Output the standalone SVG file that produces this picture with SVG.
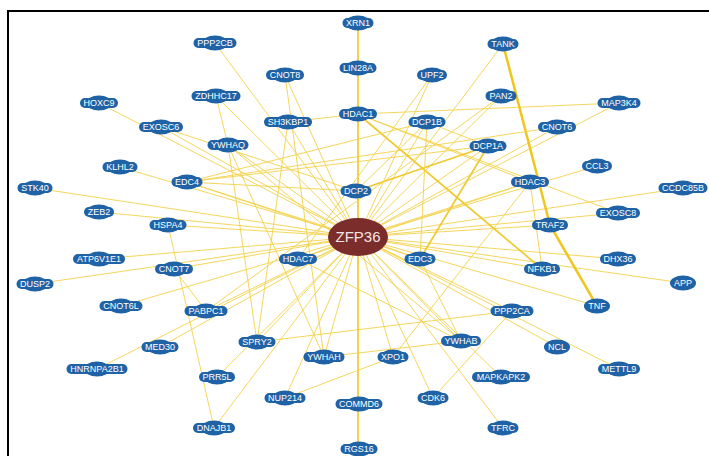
<svg xmlns="http://www.w3.org/2000/svg" width="709" height="456" viewBox="0 0 709 456">
<style>
.e{stroke:#F3D24A;stroke-width:1;stroke-opacity:0.9;fill:none}
.e2{stroke:#EFC61E;stroke-width:2.5;fill:none}
.e3{stroke:#F0C930;stroke-width:1.7;fill:none}
.b{fill:#1F63A6}
.t{fill:#FFFFFF;font-family:"Liberation Sans",Arial,sans-serif;font-size:9px;text-anchor:middle}
.hub{fill:#7B2D2B}
.ht{fill:#F3E4E4;font-family:"Liberation Sans",Arial,sans-serif;font-size:15px;text-anchor:middle}
</style>
<rect width="709" height="456" fill="#FFFFFF"/>
<path d="M8,456 V11 H709" fill="none" stroke="#000" stroke-width="2"/>
<g id="connectors">
<line class="e" x1="358" y1="237" x2="215" y2="43"/>
<line class="e" x1="358" y1="237" x2="503" y2="44"/>
<line class="e" x1="358" y1="237" x2="285" y2="75"/>
<line class="e" x1="358" y1="237" x2="432" y2="75"/>
<line class="e" x1="358" y1="237" x2="501" y2="96"/>
<line class="e" x1="358" y1="237" x2="619" y2="103"/>
<line class="e" x1="358" y1="237" x2="99" y2="103"/>
<line class="e" x1="358" y1="237" x2="216" y2="96"/>
<line class="e" x1="358" y1="237" x2="288" y2="122"/>
<line class="e" x1="358" y1="237" x2="427" y2="122"/>
<line class="e" x1="358" y1="237" x2="161" y2="127"/>
<line class="e" x1="358" y1="237" x2="557" y2="127"/>
<line class="e" x1="358" y1="237" x2="228" y2="145"/>
<line class="e" x1="358" y1="237" x2="488" y2="146"/>
<line class="e" x1="358" y1="237" x2="120" y2="167"/>
<line class="e" x1="358" y1="237" x2="187" y2="182"/>
<line class="e" x1="358" y1="237" x2="597" y2="166"/>
<line class="e" x1="358" y1="237" x2="530" y2="182"/>
<line class="e" x1="358" y1="237" x2="683" y2="188"/>
<line class="e" x1="358" y1="237" x2="35" y2="188"/>
<line class="e" x1="358" y1="237" x2="99" y2="212"/>
<line class="e" x1="358" y1="237" x2="618" y2="213"/>
<line class="e" x1="358" y1="237" x2="168" y2="225"/>
<line class="e" x1="358" y1="237" x2="550" y2="225"/>
<line class="e" x1="358" y1="237" x2="99" y2="259"/>
<line class="e" x1="358" y1="237" x2="298" y2="259"/>
<line class="e" x1="358" y1="237" x2="420" y2="259"/>
<line class="e" x1="358" y1="237" x2="618" y2="259"/>
<line class="e" x1="358" y1="237" x2="174" y2="269"/>
<line class="e" x1="358" y1="237" x2="542" y2="269"/>
<line class="e" x1="358" y1="237" x2="35" y2="284"/>
<line class="e" x1="358" y1="237" x2="683" y2="283"/>
<line class="e" x1="358" y1="237" x2="121" y2="306"/>
<line class="e" x1="358" y1="237" x2="206" y2="311"/>
<line class="e" x1="358" y1="237" x2="597" y2="306"/>
<line class="e" x1="358" y1="237" x2="512" y2="311"/>
<line class="e" x1="358" y1="237" x2="160" y2="347"/>
<line class="e" x1="358" y1="237" x2="257" y2="342"/>
<line class="e" x1="358" y1="237" x2="461" y2="341"/>
<line class="e" x1="358" y1="237" x2="557" y2="347"/>
<line class="e" x1="358" y1="237" x2="97" y2="369"/>
<line class="e" x1="358" y1="237" x2="324" y2="357"/>
<line class="e" x1="358" y1="237" x2="393" y2="357"/>
<line class="e" x1="358" y1="237" x2="217" y2="377"/>
<line class="e" x1="358" y1="237" x2="501" y2="377"/>
<line class="e" x1="358" y1="237" x2="619" y2="369"/>
<line class="e" x1="358" y1="237" x2="285" y2="398"/>
<line class="e" x1="358" y1="237" x2="433" y2="398"/>
<line class="e" x1="358" y1="237" x2="214" y2="428"/>
<line class="e" x1="358" y1="237" x2="503" y2="428"/>
<line class="e3" x1="358" y1="237" x2="358" y2="449"/>
<line class="e3" x1="358" y1="23" x2="358" y2="237"/>
<line class="e" x1="358" y1="114" x2="288" y2="122"/>
<line class="e" x1="358" y1="114" x2="619" y2="103"/>
<line class="e3" x1="358" y1="114" x2="542" y2="269"/>
<line class="e" x1="358" y1="114" x2="530" y2="182"/>
<line class="e" x1="358" y1="114" x2="618" y2="213"/>
<line class="e2" x1="503" y1="44" x2="550" y2="225"/>
<line class="e2" x1="550" y1="225" x2="597" y2="306"/>
<line class="e3" x1="488" y1="146" x2="356" y2="191"/>
<line class="e3" x1="488" y1="146" x2="420" y2="259"/>
<line class="e" x1="427" y1="122" x2="420" y2="259"/>
<line class="e" x1="427" y1="122" x2="488" y2="146"/>
<line class="e" x1="427" y1="122" x2="356" y2="191"/>
<line class="e" x1="187" y1="182" x2="356" y2="191"/>
<line class="e" x1="187" y1="182" x2="488" y2="146"/>
<line class="e" x1="187" y1="182" x2="427" y2="122"/>
<line class="e" x1="187" y1="182" x2="557" y2="127"/>
<line class="e" x1="187" y1="182" x2="420" y2="259"/>
<line class="e" x1="530" y1="182" x2="393" y2="357"/>
<line class="e" x1="530" y1="182" x2="542" y2="269"/>
<line class="e" x1="530" y1="182" x2="298" y2="259"/>
<line class="e" x1="161" y1="127" x2="356" y2="191"/>
<line class="e" x1="216" y1="96" x2="228" y2="145"/>
<line class="e" x1="228" y1="145" x2="257" y2="342"/>
<line class="e" x1="228" y1="145" x2="324" y2="357"/>
<line class="e" x1="228" y1="145" x2="461" y2="341"/>
<line class="e" x1="288" y1="122" x2="257" y2="342"/>
<line class="e" x1="257" y1="342" x2="512" y2="311"/>
<line class="e" x1="512" y1="311" x2="433" y2="398"/>
<line class="e" x1="168" y1="225" x2="214" y2="428"/>
<line class="e" x1="174" y1="269" x2="206" y2="311"/>
<line class="e" x1="393" y1="357" x2="285" y2="398"/>
<line class="e" x1="324" y1="357" x2="461" y2="341"/>
<line class="e" x1="298" y1="259" x2="461" y2="341"/>
<line class="e" x1="420" y1="259" x2="461" y2="341"/>
<line class="e" x1="501" y1="96" x2="206" y2="311"/>
<line class="e" x1="285" y1="75" x2="324" y2="357"/>
<line class="e" x1="432" y1="75" x2="298" y2="259"/>
</g>
<g id="ZFP36"><ellipse class="hub" cx="358" cy="237" rx="30" ry="19"/><text class="ht" x="358" y="242">ZFP36</text></g>
<g id="XRN1" transform="translate(358,23)"><ellipse class="b" rx="13" ry="7.5"/><rect class="b" x="-15.5" y="-5" width="31" height="10" rx="5"/><text class="t" y="3.2">XRN1</text></g>
<g id="PPP2CB" transform="translate(215,43)"><ellipse class="b" rx="13" ry="7.5"/><rect class="b" x="-21.5" y="-5" width="43" height="10" rx="5"/><text class="t" y="3.2">PPP2CB</text></g>
<g id="TANK" transform="translate(503,44)"><ellipse class="b" rx="13" ry="7.5"/><rect class="b" x="-15.5" y="-5" width="31" height="10" rx="5"/><text class="t" y="3.2">TANK</text></g>
<g id="LIN28A" transform="translate(358,68)"><ellipse class="b" rx="13" ry="7.5"/><rect class="b" x="-18.5" y="-5" width="37" height="10" rx="5"/><text class="t" y="3.2">LIN28A</text></g>
<g id="CNOT8" transform="translate(285,75)"><ellipse class="b" rx="13" ry="7.5"/><rect class="b" x="-19" y="-5" width="38" height="10" rx="5"/><text class="t" y="3.2">CNOT8</text></g>
<g id="UPF2" transform="translate(432,75)"><ellipse class="b" rx="13" ry="7.5"/><rect class="b" x="-15" y="-5" width="30" height="10" rx="5"/><text class="t" y="3.2">UPF2</text></g>
<g id="PAN2" transform="translate(501,96)"><ellipse class="b" rx="13" ry="7.5"/><rect class="b" x="-15.5" y="-5" width="31" height="10" rx="5"/><text class="t" y="3.2">PAN2</text></g>
<g id="MAP3K4" transform="translate(619,103)"><ellipse class="b" rx="13" ry="7.5"/><rect class="b" x="-21.5" y="-5" width="43" height="10" rx="5"/><text class="t" y="3.2">MAP3K4</text></g>
<g id="HOXC9" transform="translate(99,103)"><ellipse class="b" rx="13" ry="7.5"/><rect class="b" x="-19" y="-5" width="38" height="10" rx="5"/><text class="t" y="3.2">HOXC9</text></g>
<g id="ZDHHC17" transform="translate(216,96)"><ellipse class="b" rx="13" ry="7.5"/><rect class="b" x="-24.5" y="-5" width="49" height="10" rx="5"/><text class="t" y="3.2">ZDHHC17</text></g>
<g id="HDAC1" transform="translate(358,114)"><ellipse class="b" rx="13" ry="7.5"/><rect class="b" x="-19" y="-5" width="38" height="10" rx="5"/><text class="t" y="3.2">HDAC1</text></g>
<g id="SH3KBP1" transform="translate(288,122)"><ellipse class="b" rx="13" ry="7.5"/><rect class="b" x="-24" y="-5" width="48" height="10" rx="5"/><text class="t" y="3.2">SH3KBP1</text></g>
<g id="DCP1B" transform="translate(427,122)"><ellipse class="b" rx="13" ry="7.5"/><rect class="b" x="-18.5" y="-5" width="37" height="10" rx="5"/><text class="t" y="3.2">DCP1B</text></g>
<g id="EXOSC6" transform="translate(161,127)"><ellipse class="b" rx="13" ry="7.5"/><rect class="b" x="-22" y="-5" width="44" height="10" rx="5"/><text class="t" y="3.2">EXOSC6</text></g>
<g id="CNOT6" transform="translate(557,127)"><ellipse class="b" rx="13" ry="7.5"/><rect class="b" x="-19" y="-5" width="38" height="10" rx="5"/><text class="t" y="3.2">CNOT6</text></g>
<g id="YWHAQ" transform="translate(228,145)"><ellipse class="b" rx="13" ry="7.5"/><rect class="b" x="-20.5" y="-5" width="41" height="10" rx="5"/><text class="t" y="3.2">YWHAQ</text></g>
<g id="DCP1A" transform="translate(488,146)"><ellipse class="b" rx="13" ry="7.5"/><rect class="b" x="-18.5" y="-5" width="37" height="10" rx="5"/><text class="t" y="3.2">DCP1A</text></g>
<g id="KLHL2" transform="translate(120,167)"><ellipse class="b" rx="13" ry="7.5"/><rect class="b" x="-17.5" y="-5" width="35" height="10" rx="5"/><text class="t" y="3.2">KLHL2</text></g>
<g id="EDC4" transform="translate(187,182)"><ellipse class="b" rx="13" ry="7.5"/><rect class="b" x="-15.5" y="-5" width="31" height="10" rx="5"/><text class="t" y="3.2">EDC4</text></g>
<g id="CCL3" transform="translate(597,166)"><ellipse class="b" rx="13" ry="7.5"/><rect class="b" x="-15" y="-5" width="30" height="10" rx="5"/><text class="t" y="3.2">CCL3</text></g>
<g id="HDAC3" transform="translate(530,182)"><ellipse class="b" rx="13" ry="7.5"/><rect class="b" x="-19" y="-5" width="38" height="10" rx="5"/><text class="t" y="3.2">HDAC3</text></g>
<g id="CCDC85B" transform="translate(683,188)"><ellipse class="b" rx="13" ry="7.5"/><rect class="b" x="-24.5" y="-5" width="49" height="10" rx="5"/><text class="t" y="3.2">CCDC85B</text></g>
<g id="STK40" transform="translate(35,188)"><ellipse class="b" rx="13" ry="7.5"/><rect class="b" x="-17.5" y="-5" width="35" height="10" rx="5"/><text class="t" y="3.2">STK40</text></g>
<g id="DCP2" transform="translate(356,191)"><ellipse class="b" rx="13" ry="7.5"/><rect class="b" x="-15.5" y="-5" width="31" height="10" rx="5"/><text class="t" y="3.2">DCP2</text></g>
<g id="ZEB2" transform="translate(99,212)"><ellipse class="b" rx="13" ry="7.5"/><rect class="b" x="-15" y="-5" width="30" height="10" rx="5"/><text class="t" y="3.2">ZEB2</text></g>
<g id="EXOSC8" transform="translate(618,213)"><ellipse class="b" rx="13" ry="7.5"/><rect class="b" x="-22" y="-5" width="44" height="10" rx="5"/><text class="t" y="3.2">EXOSC8</text></g>
<g id="HSPA4" transform="translate(168,225)"><ellipse class="b" rx="13" ry="7.5"/><rect class="b" x="-18.5" y="-5" width="37" height="10" rx="5"/><text class="t" y="3.2">HSPA4</text></g>
<g id="TRAF2" transform="translate(550,225)"><ellipse class="b" rx="13" ry="7.5"/><rect class="b" x="-18" y="-5" width="36" height="10" rx="5"/><text class="t" y="3.2">TRAF2</text></g>
<g id="ATP6V1E1" transform="translate(99,259)"><ellipse class="b" rx="13" ry="7.5"/><rect class="b" x="-26" y="-5" width="52" height="10" rx="5"/><text class="t" y="3.2">ATP6V1E1</text></g>
<g id="HDAC7" transform="translate(298,259)"><ellipse class="b" rx="13" ry="7.5"/><rect class="b" x="-19" y="-5" width="38" height="10" rx="5"/><text class="t" y="3.2">HDAC7</text></g>
<g id="EDC3" transform="translate(420,259)"><ellipse class="b" rx="13" ry="7.5"/><rect class="b" x="-15.5" y="-5" width="31" height="10" rx="5"/><text class="t" y="3.2">EDC3</text></g>
<g id="DHX36" transform="translate(618,259)"><ellipse class="b" rx="13" ry="7.5"/><rect class="b" x="-18" y="-5" width="36" height="10" rx="5"/><text class="t" y="3.2">DHX36</text></g>
<g id="CNOT7" transform="translate(174,269)"><ellipse class="b" rx="13" ry="7.5"/><rect class="b" x="-19" y="-5" width="38" height="10" rx="5"/><text class="t" y="3.2">CNOT7</text></g>
<g id="NFKB1" transform="translate(542,269)"><ellipse class="b" rx="13" ry="7.5"/><rect class="b" x="-18" y="-5" width="36" height="10" rx="5"/><text class="t" y="3.2">NFKB1</text></g>
<g id="DUSP2" transform="translate(35,284)"><ellipse class="b" rx="13" ry="7.5"/><rect class="b" x="-18.5" y="-5" width="37" height="10" rx="5"/><text class="t" y="3.2">DUSP2</text></g>
<g id="APP" transform="translate(683,283)"><ellipse class="b" rx="13" ry="7.5"/><rect class="b" x="-12.5" y="-5" width="25" height="10" rx="5"/><text class="t" y="3.2">APP</text></g>
<g id="CNOT6L" transform="translate(121,306)"><ellipse class="b" rx="13" ry="7.5"/><rect class="b" x="-21.5" y="-5" width="43" height="10" rx="5"/><text class="t" y="3.2">CNOT6L</text></g>
<g id="PABPC1" transform="translate(206,311)"><ellipse class="b" rx="13" ry="7.5"/><rect class="b" x="-21.5" y="-5" width="43" height="10" rx="5"/><text class="t" y="3.2">PABPC1</text></g>
<g id="TNF" transform="translate(597,306)"><ellipse class="b" rx="13" ry="7.5"/><rect class="b" x="-12.5" y="-5" width="25" height="10" rx="5"/><text class="t" y="3.2">TNF</text></g>
<g id="PPP2CA" transform="translate(512,311)"><ellipse class="b" rx="13" ry="7.5"/><rect class="b" x="-21.5" y="-5" width="43" height="10" rx="5"/><text class="t" y="3.2">PPP2CA</text></g>
<g id="MED30" transform="translate(160,347)"><ellipse class="b" rx="13" ry="7.5"/><rect class="b" x="-18.5" y="-5" width="37" height="10" rx="5"/><text class="t" y="3.2">MED30</text></g>
<g id="SPRY2" transform="translate(257,342)"><ellipse class="b" rx="13" ry="7.5"/><rect class="b" x="-18.5" y="-5" width="37" height="10" rx="5"/><text class="t" y="3.2">SPRY2</text></g>
<g id="YWHAB" transform="translate(461,341)"><ellipse class="b" rx="13" ry="7.5"/><rect class="b" x="-20" y="-5" width="40" height="10" rx="5"/><text class="t" y="3.2">YWHAB</text></g>
<g id="NCL" transform="translate(557,347)"><ellipse class="b" rx="13" ry="7.5"/><rect class="b" x="-12.5" y="-5" width="25" height="10" rx="5"/><text class="t" y="3.2">NCL</text></g>
<g id="HNRNPA2B1" transform="translate(97,369)"><ellipse class="b" rx="13" ry="7.5"/><rect class="b" x="-30.5" y="-5" width="61" height="10" rx="5"/><text class="t" y="3.2">HNRNPA2B1</text></g>
<g id="YWHAH" transform="translate(324,357)"><ellipse class="b" rx="13" ry="7.5"/><rect class="b" x="-20.5" y="-5" width="41" height="10" rx="5"/><text class="t" y="3.2">YWHAH</text></g>
<g id="XPO1" transform="translate(393,357)"><ellipse class="b" rx="13" ry="7.5"/><rect class="b" x="-15.5" y="-5" width="31" height="10" rx="5"/><text class="t" y="3.2">XPO1</text></g>
<g id="PRR5L" transform="translate(217,377)"><ellipse class="b" rx="13" ry="7.5"/><rect class="b" x="-18" y="-5" width="36" height="10" rx="5"/><text class="t" y="3.2">PRR5L</text></g>
<g id="MAPKAPK2" transform="translate(501,377)"><ellipse class="b" rx="13" ry="7.5"/><rect class="b" x="-29" y="-5" width="58" height="10" rx="5"/><text class="t" y="3.2">MAPKAPK2</text></g>
<g id="METTL9" transform="translate(619,369)"><ellipse class="b" rx="13" ry="7.5"/><rect class="b" x="-21" y="-5" width="42" height="10" rx="5"/><text class="t" y="3.2">METTL9</text></g>
<g id="NUP214" transform="translate(285,398)"><ellipse class="b" rx="13" ry="7.5"/><rect class="b" x="-20.5" y="-5" width="41" height="10" rx="5"/><text class="t" y="3.2">NUP214</text></g>
<g id="COMMD6" transform="translate(359,404)"><ellipse class="b" rx="13" ry="7.5"/><rect class="b" x="-23.5" y="-5" width="47" height="10" rx="5"/><text class="t" y="3.2">COMMD6</text></g>
<g id="CDK6" transform="translate(433,398)"><ellipse class="b" rx="13" ry="7.5"/><rect class="b" x="-15.5" y="-5" width="31" height="10" rx="5"/><text class="t" y="3.2">CDK6</text></g>
<g id="DNAJB1" transform="translate(214,428)"><ellipse class="b" rx="13" ry="7.5"/><rect class="b" x="-21" y="-5" width="42" height="10" rx="5"/><text class="t" y="3.2">DNAJB1</text></g>
<g id="TFRC" transform="translate(503,428)"><ellipse class="b" rx="13" ry="7.5"/><rect class="b" x="-15.5" y="-5" width="31" height="10" rx="5"/><text class="t" y="3.2">TFRC</text></g>
<g id="RGS16" transform="translate(359,449)"><ellipse class="b" rx="13" ry="7.5"/><rect class="b" x="-18.5" y="-5" width="37" height="10" rx="5"/><text class="t" y="3.2">RGS16</text></g>
</svg>
